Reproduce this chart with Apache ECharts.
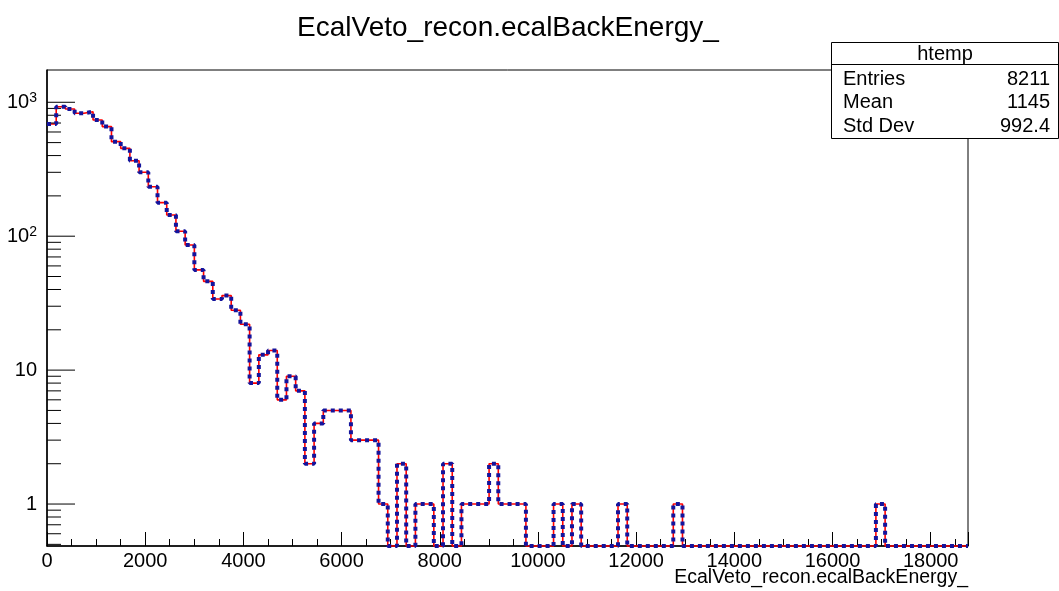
<!DOCTYPE html>
<html><head><meta charset="utf-8">
<script src="https://cdn.jsdelivr.net/npm/echarts@6/dist/echarts.min.js"></script>
<style>html,body{margin:0;padding:0;background:#fff}#c{width:1059px;height:591px}</style>
</head><body><div id="c"></div>
<script>
// ---- data ----
const chartTitle = 'EcalVeto_recon.ecalBackEnergy_';
const xAxisTitle = 'EcalVeto_recon.ecalBackEnergy_';
const binWidth = 187.6;
const xMin = 0;
const xMax = 18760;
const yMin = 0.486;
const yMax = 1742;
// bin contents (100 bins starting at 0)
const counts = [
  689, 927, 891, 828, 851, 738, 658, 508, 453, 366,
  300, 234, 178, 144, 109, 86, 56, 46, 34, 36,
  28, 22, 8, 13, 14, 6, 9, 7, 2, 4,
  5, 5, 5, 3, 3, 3, 1, 0, 2, 0,
  1, 1, 0, 2, 0, 1, 1, 1, 2, 1,
  1, 1, 0, 0, 0, 1, 0, 1, 0, 0,
  0, 0, 1, 0, 0, 0, 0, 0, 1, 0,
  0, 0, 0, 0, 0, 0, 0, 0, 0, 0,
  0, 0, 0, 0, 0, 0, 0, 0, 0, 0,
  1, 0, 0, 0, 0, 0, 0, 0, 0, 0
];
const yDecades = [0, 1, 2, 3];
const yDecadeLabels = ['1', '10', '10|2', '10|3'];
const yMinorMultipliers = [2, 3, 4, 5, 6, 7, 8, 9];
const statsName = 'htemp';
const statsLabels = ['Entries', 'Mean', 'Std Dev'];
const statsValues = ['8211', '1145', '992.4'];

// ---- build ----
const FONT = '"Liberation Sans", Arial, Helvetica, sans-serif';
const lg = v => (v > 0 ? Math.log10(v) : Math.log10(yMin));
const stepData = counts.map((c, i) => [xMin + i * binWidth, lg(c)]);
stepData.push([xMin + counts.length * binWidth, lg(counts[counts.length - 1])]);

const yLo = Math.log10(yMin), yHi = Math.log10(yMax);
const yTicks = [];
for (let d = -1; d <= 3; d++) {
  const base = Math.pow(10, d);
  yTicks.push([xMin, Math.log10(base), 1]);
  yMinorMultipliers.forEach(m => yTicks.push([xMin, Math.log10(m * base), 0]));
}
const yTicksIn = yTicks.filter(t => t[1] >= yLo - 1e-9 && t[1] <= yHi + 1e-9);

const chart = echarts.init(document.getElementById('c'), null, {renderer: 'canvas'});
const statsTop = 42.5, statsLeft = 831.5, statsW = 227, rowH = 23.5;
const graphics = [
  {type: 'text', x: 508, y: 28, style: {text: chartTitle, font: '28px ' + FONT, fill: '#000', textAlign: 'center', textVerticalAlign: 'middle'}, z: 100},
  {type: 'text', x: 968, y: 578, style: {text: xAxisTitle, font: '19.5px ' + FONT, fill: '#000', textAlign: 'right', textVerticalAlign: 'middle'}, z: 100},
  {type: 'rect', shape: {x: statsLeft, y: statsTop, width: statsW, height: 96}, style: {fill: '#fff', stroke: '#000', lineWidth: 1}, z: 100},
  {type: 'line', shape: {x1: statsLeft, y1: 64.5, x2: statsLeft + statsW, y2: 64.5}, style: {stroke: '#000', lineWidth: 1}, z: 101},
  {type: 'text', x: 945, y: 54, style: {text: statsName, font: '20px ' + FONT, fill: '#000', textAlign: 'center', textVerticalAlign: 'middle'}, z: 101}
];
statsLabels.forEach((l, i) => {
  graphics.push({type: 'text', x: 843, y: 79 + i * rowH, style: {text: l, font: '20px ' + FONT, fill: '#000', textAlign: 'left', textVerticalAlign: 'middle'}, z: 101});
  graphics.push({type: 'text', x: 1050, y: 79 + i * rowH, style: {text: statsValues[i], font: '20px ' + FONT, fill: '#000', textAlign: 'right', textVerticalAlign: 'middle'}, z: 101});
});

const option = {
  animation: false,
  backgroundColor: '#fff',
  grid: {left: 47, top: 70, right: 91, bottom: 45, show: true, borderColor: '#000', borderWidth: 1, backgroundColor: 'transparent'},
  xAxis: {
    type: 'value', min: xMin, max: xMax, interval: 2000,
    axisLine: {show: true, onZero: false, lineStyle: {color: '#000', width: 1.5}},
    axisTick: {show: true, inside: true, length: 14, lineStyle: {color: '#000', width: 1}},
    minorTick: {show: true, splitNumber: 4, length: 7, lineStyle: {color: '#000', width: 1}},
    axisLabel: {show: true, showMaxLabel: false, color: '#000', fontSize: 20, fontFamily: FONT, margin: 5,
      formatter: v => String(Math.round(v))},
    splitLine: {show: false}, minorSplitLine: {show: false}
  },
  yAxis: {
    type: 'value', min: yLo, max: yHi, splitNumber: 4,
    axisLine: {show: true, onZero: false, lineStyle: {color: '#000', width: 1.5}},
    axisTick: {show: false},
    splitLine: {show: false},
    axisLabel: {
      show: true, showMinLabel: false, showMaxLabel: false, margin: 10, color: '#000',
      fontSize: 20, fontFamily: FONT,
      formatter: v => {
        const n = Math.round(v);
        if (Math.abs(v - n) > 1e-6) return '';
        const idx = yDecades.indexOf(n);
        if (idx < 0) return '';
        const parts = yDecadeLabels[idx].split('|');
        return parts.length > 1 ? '{b|' + parts[0] + '}{s|' + parts[1] + '}' : '{b|' + parts[0] + '}';
      },
      rich: {
        b: {fontSize: 20, fontFamily: FONT, color: '#000'},
        s: {fontSize: 14, fontFamily: FONT, color: '#000', verticalAlign: 'bottom', padding: [0, 0, 9, 0]}
      }
    }
  },
  series: [
    {
      type: 'custom', clip: false, silent: true, z: 5,
      data: yTicksIn,
      renderItem: (params, api) => {
        const p = api.coord([api.value(0), api.value(1)]);
        const len = api.value(2) ? 28 : 14;
        return {type: 'line', shape: {x1: p[0], y1: p[1], x2: p[0] + len, y2: p[1]}, style: {stroke: '#000', lineWidth: 1}};
      }
    },
    {
      type: 'line', data: stepData, step: 'end', showSymbol: false, silent: true, z: 3, clip: false,
      lineStyle: {color: '#ff0000', width: 1.6}
    },
    {
      type: 'line', data: stepData, step: 'end', showSymbol: false, silent: true, z: 6, clip: false,
      lineStyle: {color: '#14149c', width: 4, type: [4, 4]}
    }
  ],
  graphic: graphics
};
chart.setOption(option);
</script>
</body></html>
